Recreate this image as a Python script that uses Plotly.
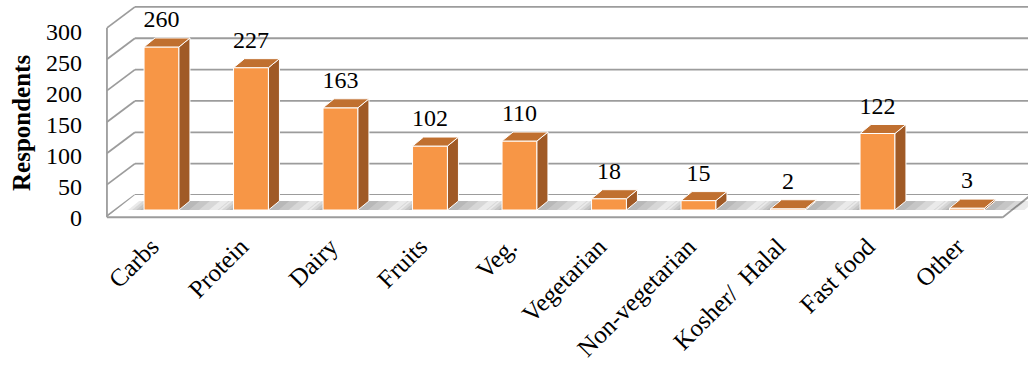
import plotly.graph_objects as go

# Survey data: preferred food groups
categories = ["Carbs", "Protein", "Dairy", "Fruits", "Veg.", "Vegetarian",
              "Non-vegetarian", "Kosher/  Halal", "Fast food", "Other"]
respondents = [260, 227, 163, 102, 110, 18, 15, 2, 122, 3]
y_ticks = [0, 50, 100, 150, 200, 250, 300]

SERIF = "Liberation Serif, Times New Roman, serif"

# ---- geometry of the pseudo-3D view -------------------------------------
W, H = 1028, 368
PLOT_H = 225                 # height of plotting area in px
PX_X = 89.5                  # px per category step
PX_Y = 0.627                 # px per respondent
X0 = -161.5 / PX_X
X1 = X0 + W / PX_X
Y1 = 210 / PX_Y
Y0 = Y1 - PLOT_H / PX_Y

BAR_W = 0.39
ROOM_L, ROOM_R = -0.52, 9.49
Y_MAX = max(y_ticks)


def px_off(dx_px, dy_px):
    """Screen offset (right, down) in px -> data offset."""
    return dx_px / PX_X, -dy_px / PX_Y


BDX, BDY = px_off(11, -9)    # bar depth
FDX, FDY = px_off(-8, 6)     # front plane of the room
KDX, KDY = px_off(20, -15)   # back wall plane
LBL_DX = px_off(-10, 0)[0]   # category labels sit at the front edge

FRONT = "#F79646"
SIDE = "#A05A26"
TOP = "#C07030"
GRID = "#9C9C9C"


def path(points):
    return "M " + " L ".join(f"{x},{y}" for x, y in points) + " Z"


def seg(p, q, color=GRID, width=1.8):
    return dict(type="line", xref="x", yref="y", layer="below",
                x0=p[0], y0=p[1], x1=q[0], y1=q[1],
                line=dict(color=color, width=width))


shapes = []

# back wall gridlines
for v in y_ticks:
    shapes.append(seg((ROOM_L + KDX, v + KDY), (ROOM_R + KDX + 0.5, v + KDY)))
# side wall gridlines
for v in y_ticks:
    shapes.append(seg((ROOM_L + FDX, v + FDY), (ROOM_L + KDX, v + KDY)))
# floor
fl = (ROOM_L + FDX, FDY - 2)
fr = (ROOM_R + FDX, FDY - 2)
br = (ROOM_R + KDX, KDY)
bl = (ROOM_L + KDX, KDY)
shapes.append(dict(type="path", xref="x", yref="y", layer="below",
                   path=path([fl, fr, br, bl]), fillcolor="white",
                   line=dict(width=0)))
shapes.append(seg(fl, fr))
shapes.append(seg(fr, br))
shapes.append(seg((ROOM_L + FDX, FDY - 2), (ROOM_L + FDX, Y_MAX + FDY)))

# soft floor shadows beside each bar
for i in range(len(categories)):
    for k in range(1, 5):
        le, re = px_off(4 * k, 0)[0], px_off(10 * k, 0)[0]
        xa = i - BAR_W / 2 - le
        xb = i + BAR_W / 2 + re
        pts = [(xa, 0), (xb, 0), (xb + BDX, BDY), (xa + BDX, BDY)]
        shapes.append(dict(type="path", xref="x", yref="y", layer="below",
                           path=path(pts), fillcolor="rgba(80,80,80,0.12)",
                           line=dict(width=0)))

# ---- bars ---------------------------------------------------------------
idx = list(range(len(categories)))
fig = go.Figure()

fig.add_trace(go.Bar(
    x=idx, y=respondents, width=BAR_W,
    marker=dict(color=FRONT, line=dict(color="white", width=1)),
    hoverinfo="skip", showlegend=False))

side_x, side_y, top_x, top_y = [], [], [], []
for i, v in zip(idx, respondents):
    r = i + BAR_W / 2
    l = i - BAR_W / 2
    side_x += [r, r + BDX, r + BDX, r, r, None]
    side_y += [0, BDY, v + BDY, v, 0, None]
    top_x += [l, r, r + BDX, l + BDX, l, None]
    top_y += [v, v, v + BDY, v + BDY, v, None]

fig.add_trace(go.Scatter(x=side_x, y=side_y, mode="lines", fill="toself",
                         fillcolor=SIDE, line=dict(color="white", width=1),
                         hoverinfo="skip", showlegend=False))
fig.add_trace(go.Scatter(x=top_x, y=top_y, mode="lines", fill="toself",
                         fillcolor=TOP, line=dict(color="white", width=1),
                         hoverinfo="skip", showlegend=False))

# value labels above each bar
LABEL_GAP = 26 / PX_Y
fig.add_trace(go.Scatter(
    x=idx, y=[v + LABEL_GAP for v in respondents],
    text=[str(v) for v in respondents], mode="text",
    textposition="middle center",
    textfont=dict(family=SERIF, size=24, color="black"),
    hoverinfo="skip", showlegend=False))

# tick scale drawn along the front edge of the side wall
S2 = (217.5 - 32) / Y_MAX
Y1_2 = 217.5 / S2
Y0_2 = Y1_2 - PLOT_H / S2
fig.add_trace(go.Scatter(
    x=[ROOM_L + FDX] * len(y_ticks), y=y_ticks, yaxis="y2",
    mode="markers", marker=dict(opacity=0, size=1),
    hoverinfo="skip", showlegend=False))

fig.update_layout(
    width=W, height=H, autosize=False,
    margin=dict(l=0, r=0, t=0, b=H - PLOT_H, autoexpand=False),
    paper_bgcolor="white", plot_bgcolor="white",
    shapes=shapes,
    font=dict(family=SERIF, size=24, color="black"),
    xaxis=dict(range=[X0, X1], tickmode="array",
               tickvals=[i + LBL_DX for i in idx], ticktext=categories,
               tickangle=-45, showgrid=False, zeroline=False, showline=False,
               ticks="", ticklabelstandoff=1, automargin=False,
               tickfont=dict(family=SERIF, size=25)),
    yaxis=dict(range=[Y0, Y1], visible=False, automargin=False),
    yaxis2=dict(overlaying="y", anchor="free", position=82 / W, side="left",
                range=[Y0_2, Y1_2], tickmode="array", tickvals=y_ticks,
                showgrid=False, zeroline=False, showline=False, ticks="",
                automargin=False, tickfont=dict(family=SERIF, size=24)),
    annotations=[dict(text="<b>Respondents</b>", textangle=-90,
                      xref="paper", yref="paper", x=22 / W, xanchor="center",
                      y=(PLOT_H - 123) / PLOT_H, yanchor="middle",
                      showarrow=False, font=dict(family=SERIF, size=25))],
)

fig.write_html("out.html")
